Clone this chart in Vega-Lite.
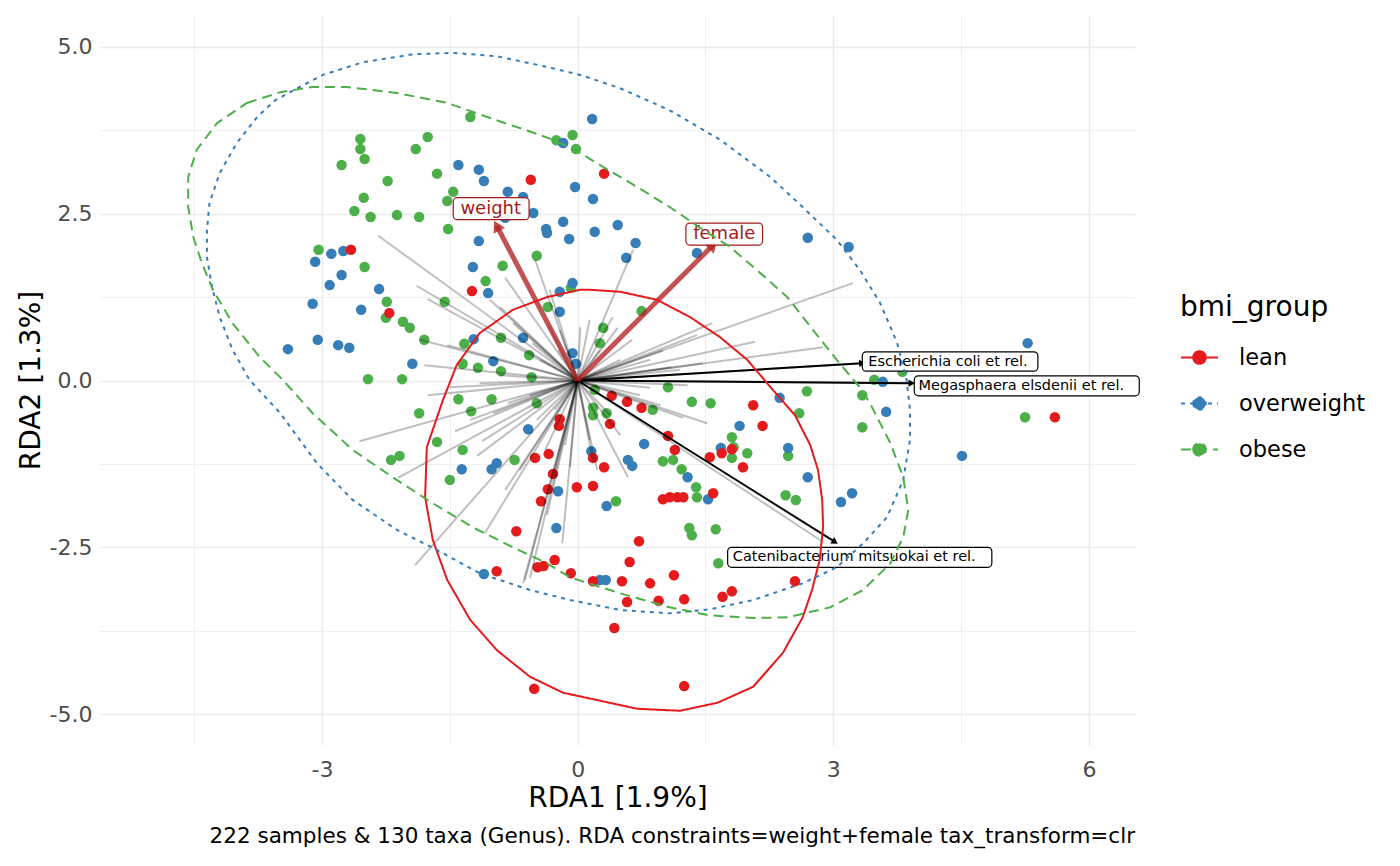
{
  "$schema": "https://vega.github.io/schema/vega-lite/v6.json",
  "width": 1035,
  "height": 730,
  "autosize": {"type": "none"},
  "padding": {"left": 100, "top": 15, "right": 265, "bottom": 121},
  "background": "white",
  "title": {
    "text": "222 samples & 130 taxa (Genus). RDA constraints=weight+female tax_transform=clr",
    "orient": "bottom", "anchor": "end", "frame": "group",
    "fontSize": 21.5, "fontWeight": "normal", "color": "#000000", "offset": 14
  },
  "datasets": {
    "samples": [
      {"bmi_group": "obese", "x": -1.26, "y": 3.95}, {"bmi_group": "obese", "x": -2.55, "y": 3.62}, {"bmi_group": "obese", "x": -2.55, "y": 3.47},
      {"bmi_group": "obese", "x": -2.50, "y": 3.32}, {"bmi_group": "obese", "x": -2.77, "y": 3.23}, {"bmi_group": "obese", "x": -1.90, "y": 3.47},
      {"bmi_group": "obese", "x": -1.76, "y": 3.65}, {"bmi_group": "obese", "x": -0.25, "y": 3.60}, {"bmi_group": "obese", "x": -0.06, "y": 3.68},
      {"bmi_group": "obese", "x": -0.02, "y": 3.47}, {"bmi_group": "obese", "x": -2.23, "y": 2.99}, {"bmi_group": "obese", "x": -1.65, "y": 3.10},
      {"bmi_group": "obese", "x": -1.46, "y": 2.83}, {"bmi_group": "obese", "x": -1.53, "y": 2.69}, {"bmi_group": "obese", "x": -2.51, "y": 2.74},
      {"bmi_group": "obese", "x": -2.62, "y": 2.54}, {"bmi_group": "obese", "x": -2.43, "y": 2.45}, {"bmi_group": "obese", "x": -2.12, "y": 2.48},
      {"bmi_group": "obese", "x": -1.86, "y": 2.45}, {"bmi_group": "obese", "x": -1.52, "y": 2.27}, {"bmi_group": "obese", "x": -3.04, "y": 1.96},
      {"bmi_group": "obese", "x": -2.50, "y": 1.70}, {"bmi_group": "obese", "x": -1.08, "y": 1.49}, {"bmi_group": "obese", "x": -0.88, "y": 1.72},
      {"bmi_group": "obese", "x": -0.48, "y": 1.87}, {"bmi_group": "obese", "x": -2.24, "y": 1.18}, {"bmi_group": "obese", "x": -2.25, "y": 0.94},
      {"bmi_group": "obese", "x": -2.05, "y": 0.88}, {"bmi_group": "obese", "x": -1.97, "y": 0.79}, {"bmi_group": "obese", "x": -1.56, "y": 1.18},
      {"bmi_group": "obese", "x": -1.80, "y": 0.61}, {"bmi_group": "obese", "x": -1.33, "y": 0.55}, {"bmi_group": "obese", "x": -0.90, "y": 0.64},
      {"bmi_group": "obese", "x": -0.57, "y": 0.38}, {"bmi_group": "obese", "x": -1.35, "y": 0.25}, {"bmi_group": "obese", "x": -1.17, "y": 0.19},
      {"bmi_group": "obese", "x": -0.90, "y": 0.14}, {"bmi_group": "obese", "x": -0.54, "y": 0.05}, {"bmi_group": "obese", "x": -0.35, "y": 1.10},
      {"bmi_group": "obese", "x": -0.08, "y": 1.39}, {"bmi_group": "obese", "x": -2.46, "y": 0.02}, {"bmi_group": "obese", "x": -2.06, "y": 0.02},
      {"bmi_group": "obese", "x": -1.40, "y": -0.28}, {"bmi_group": "obese", "x": -1.01, "y": -0.28}, {"bmi_group": "obese", "x": -1.25, "y": -0.46},
      {"bmi_group": "obese", "x": -1.86, "y": -0.49}, {"bmi_group": "obese", "x": -0.48, "y": -0.34}, {"bmi_group": "obese", "x": -1.65, "y": -0.92},
      {"bmi_group": "obese", "x": -1.35, "y": -1.04}, {"bmi_group": "obese", "x": -2.19, "y": -1.19}, {"bmi_group": "obese", "x": -2.09, "y": -1.13},
      {"bmi_group": "obese", "x": -0.74, "y": -1.19}, {"bmi_group": "obese", "x": -1.50, "y": -1.49}, {"bmi_group": "obese", "x": 0.75, "y": 1.04},
      {"bmi_group": "obese", "x": 0.30, "y": 0.79}, {"bmi_group": "obese", "x": 0.26, "y": 0.56}, {"bmi_group": "obese", "x": 3.48, "y": 0.01},
      {"bmi_group": "obese", "x": 3.81, "y": 0.13}, {"bmi_group": "obese", "x": 2.69, "y": -0.16}, {"bmi_group": "obese", "x": 1.06, "y": -0.10},
      {"bmi_group": "obese", "x": 3.34, "y": -0.22}, {"bmi_group": "obese", "x": 3.34, "y": -0.70}, {"bmi_group": "obese", "x": 5.25, "y": -0.55},
      {"bmi_group": "obese", "x": 1.34, "y": -0.32}, {"bmi_group": "obese", "x": 1.56, "y": -0.34}, {"bmi_group": "obese", "x": 2.60, "y": -0.49},
      {"bmi_group": "obese", "x": 0.18, "y": -0.41}, {"bmi_group": "obese", "x": 0.18, "y": -0.52}, {"bmi_group": "obese", "x": 0.34, "y": -0.49},
      {"bmi_group": "obese", "x": 0.88, "y": -0.44}, {"bmi_group": "obese", "x": 1.81, "y": -0.85}, {"bmi_group": "obese", "x": 1.83, "y": -1.00},
      {"bmi_group": "obese", "x": 1.81, "y": -1.16}, {"bmi_group": "obese", "x": 1.99, "y": -1.09}, {"bmi_group": "obese", "x": 1.00, "y": -1.21},
      {"bmi_group": "obese", "x": 1.12, "y": -1.19}, {"bmi_group": "obese", "x": 1.22, "y": -1.33}, {"bmi_group": "obese", "x": 1.39, "y": -1.60},
      {"bmi_group": "obese", "x": 1.40, "y": -1.75}, {"bmi_group": "obese", "x": 2.47, "y": -1.13}, {"bmi_group": "obese", "x": 2.44, "y": -1.72},
      {"bmi_group": "obese", "x": 2.56, "y": -1.79}, {"bmi_group": "obese", "x": 0.45, "y": -1.81}, {"bmi_group": "obese", "x": 1.31, "y": -2.21},
      {"bmi_group": "obese", "x": 1.34, "y": -2.32}, {"bmi_group": "obese", "x": 1.62, "y": -2.23}, {"bmi_group": "obese", "x": 1.65, "y": -2.74},
      {"bmi_group": "obese", "x": 0.20, "y": -0.14},
      {"bmi_group": "overweight", "x": -1.40, "y": 3.23}, {"bmi_group": "overweight", "x": -1.16, "y": 3.16}, {"bmi_group": "overweight", "x": -1.10, "y": 2.99},
      {"bmi_group": "overweight", "x": -0.82, "y": 2.83}, {"bmi_group": "overweight", "x": -0.64, "y": 2.75}, {"bmi_group": "overweight", "x": -0.52, "y": 2.51},
      {"bmi_group": "overweight", "x": -0.85, "y": 2.44}, {"bmi_group": "overweight", "x": -0.37, "y": 2.27}, {"bmi_group": "overweight", "x": -0.36, "y": 2.21},
      {"bmi_group": "overweight", "x": -0.17, "y": 2.38}, {"bmi_group": "overweight", "x": -0.10, "y": 2.12}, {"bmi_group": "overweight", "x": -0.03, "y": 2.90},
      {"bmi_group": "overweight", "x": -0.17, "y": 3.56}, {"bmi_group": "overweight", "x": -1.16, "y": 2.09}, {"bmi_group": "overweight", "x": -1.23, "y": 1.70},
      {"bmi_group": "overweight", "x": -1.05, "y": 1.31}, {"bmi_group": "overweight", "x": -2.89, "y": 1.90}, {"bmi_group": "overweight", "x": -2.75, "y": 1.94},
      {"bmi_group": "overweight", "x": -3.08, "y": 1.78}, {"bmi_group": "overweight", "x": -2.77, "y": 1.58}, {"bmi_group": "overweight", "x": -2.91, "y": 1.43},
      {"bmi_group": "overweight", "x": -2.33, "y": 1.37}, {"bmi_group": "overweight", "x": -3.11, "y": 1.15}, {"bmi_group": "overweight", "x": -2.54, "y": 1.06},
      {"bmi_group": "overweight", "x": -3.05, "y": 0.61}, {"bmi_group": "overweight", "x": -2.81, "y": 0.53}, {"bmi_group": "overweight", "x": -2.68, "y": 0.49},
      {"bmi_group": "overweight", "x": -3.40, "y": 0.47}, {"bmi_group": "overweight", "x": -1.94, "y": 0.25}, {"bmi_group": "overweight", "x": -0.99, "y": 0.29},
      {"bmi_group": "overweight", "x": -0.64, "y": 0.64}, {"bmi_group": "overweight", "x": -1.22, "y": 0.62}, {"bmi_group": "overweight", "x": -0.21, "y": 1.33},
      {"bmi_group": "overweight", "x": -0.21, "y": 1.03}, {"bmi_group": "overweight", "x": -0.06, "y": 1.46}, {"bmi_group": "overweight", "x": -0.06, "y": 0.41},
      {"bmi_group": "overweight", "x": -0.02, "y": 0.25}, {"bmi_group": "overweight", "x": -0.58, "y": -0.73}, {"bmi_group": "overweight", "x": -1.36, "y": -1.33},
      {"bmi_group": "overweight", "x": -1.01, "y": -1.33}, {"bmi_group": "overweight", "x": -0.95, "y": -1.24}, {"bmi_group": "overweight", "x": -0.23, "y": -1.66},
      {"bmi_group": "overweight", "x": -0.25, "y": -2.21}, {"bmi_group": "overweight", "x": -1.10, "y": -2.90}, {"bmi_group": "overweight", "x": 0.17, "y": 3.92},
      {"bmi_group": "overweight", "x": 0.18, "y": 2.72}, {"bmi_group": "overweight", "x": 0.20, "y": 2.23}, {"bmi_group": "overweight", "x": 0.47, "y": 2.33},
      {"bmi_group": "overweight", "x": 0.68, "y": 2.06}, {"bmi_group": "overweight", "x": 0.57, "y": 1.84}, {"bmi_group": "overweight", "x": 1.40, "y": 1.91},
      {"bmi_group": "overweight", "x": 2.70, "y": 2.14}, {"bmi_group": "overweight", "x": 3.18, "y": 2.00}, {"bmi_group": "overweight", "x": 5.28, "y": 0.56},
      {"bmi_group": "overweight", "x": 3.58, "y": -0.02}, {"bmi_group": "overweight", "x": 3.62, "y": -0.47}, {"bmi_group": "overweight", "x": 4.51, "y": -1.13},
      {"bmi_group": "overweight", "x": 2.37, "y": -0.26}, {"bmi_group": "overweight", "x": 1.90, "y": -0.68}, {"bmi_group": "overweight", "x": 0.78, "y": -0.95},
      {"bmi_group": "overweight", "x": 0.16, "y": -1.06}, {"bmi_group": "overweight", "x": 0.59, "y": -1.19}, {"bmi_group": "overweight", "x": 0.64, "y": -1.28},
      {"bmi_group": "overweight", "x": 1.68, "y": -1.01}, {"bmi_group": "overweight", "x": 2.47, "y": -1.01}, {"bmi_group": "overweight", "x": 2.70, "y": -1.45},
      {"bmi_group": "overweight", "x": 1.29, "y": -1.45}, {"bmi_group": "overweight", "x": 1.53, "y": -1.78}, {"bmi_group": "overweight", "x": 0.34, "y": -1.88},
      {"bmi_group": "overweight", "x": 3.09, "y": -1.82}, {"bmi_group": "overweight", "x": 3.22, "y": -1.69}, {"bmi_group": "overweight", "x": 0.26, "y": -2.99},
      {"bmi_group": "overweight", "x": 0.33, "y": -2.99},
      {"bmi_group": "lean", "x": -0.55, "y": 3.01}, {"bmi_group": "lean", "x": -2.66, "y": 1.96}, {"bmi_group": "lean", "x": -1.24, "y": 1.34},
      {"bmi_group": "lean", "x": -2.21, "y": 1.01}, {"bmi_group": "lean", "x": 0.31, "y": 3.10}, {"bmi_group": "lean", "x": -0.21, "y": -0.58},
      {"bmi_group": "lean", "x": -0.22, "y": -0.68}, {"bmi_group": "lean", "x": -0.50, "y": -1.16}, {"bmi_group": "lean", "x": -0.34, "y": -1.10},
      {"bmi_group": "lean", "x": -0.29, "y": -1.40}, {"bmi_group": "lean", "x": -0.35, "y": -1.63}, {"bmi_group": "lean", "x": -0.43, "y": -1.81},
      {"bmi_group": "lean", "x": -0.01, "y": -1.60}, {"bmi_group": "lean", "x": -0.72, "y": -2.26}, {"bmi_group": "lean", "x": -0.95, "y": -2.86},
      {"bmi_group": "lean", "x": -0.47, "y": -2.80}, {"bmi_group": "lean", "x": -0.40, "y": -2.78}, {"bmi_group": "lean", "x": -0.27, "y": -2.69},
      {"bmi_group": "lean", "x": -0.08, "y": -2.89}, {"bmi_group": "lean", "x": -0.51, "y": -4.62}, {"bmi_group": "lean", "x": 0.40, "y": -0.23},
      {"bmi_group": "lean", "x": 0.58, "y": -0.32}, {"bmi_group": "lean", "x": 0.75, "y": -0.41}, {"bmi_group": "lean", "x": 2.06, "y": -0.37},
      {"bmi_group": "lean", "x": 2.17, "y": -0.68}, {"bmi_group": "lean", "x": 0.38, "y": -0.65}, {"bmi_group": "lean", "x": 1.06, "y": -0.83},
      {"bmi_group": "lean", "x": 1.14, "y": -1.04}, {"bmi_group": "lean", "x": 1.55, "y": -1.15}, {"bmi_group": "lean", "x": 1.69, "y": -1.09},
      {"bmi_group": "lean", "x": 1.81, "y": -1.03}, {"bmi_group": "lean", "x": 1.94, "y": -1.30}, {"bmi_group": "lean", "x": 0.18, "y": -1.16},
      {"bmi_group": "lean", "x": 0.31, "y": -1.30}, {"bmi_group": "lean", "x": 0.18, "y": -1.58}, {"bmi_group": "lean", "x": 1.59, "y": -1.69},
      {"bmi_group": "lean", "x": 1.00, "y": -1.78}, {"bmi_group": "lean", "x": 1.08, "y": -1.75}, {"bmi_group": "lean", "x": 1.17, "y": -1.75},
      {"bmi_group": "lean", "x": 1.24, "y": -1.75}, {"bmi_group": "lean", "x": 0.72, "y": -2.41}, {"bmi_group": "lean", "x": 0.61, "y": -2.72},
      {"bmi_group": "lean", "x": 0.18, "y": -3.01}, {"bmi_group": "lean", "x": 0.52, "y": -3.01}, {"bmi_group": "lean", "x": 0.85, "y": -3.04},
      {"bmi_group": "lean", "x": 1.13, "y": -2.92}, {"bmi_group": "lean", "x": 0.58, "y": -3.32}, {"bmi_group": "lean", "x": 0.95, "y": -3.30},
      {"bmi_group": "lean", "x": 1.25, "y": -3.28}, {"bmi_group": "lean", "x": 1.70, "y": -3.24}, {"bmi_group": "lean", "x": 1.81, "y": -3.16},
      {"bmi_group": "lean", "x": 2.55, "y": -3.01}, {"bmi_group": "lean", "x": 0.43, "y": -3.71}, {"bmi_group": "lean", "x": 1.25, "y": -4.58},
      {"bmi_group": "lean", "x": 5.60, "y": -0.55}
    ],
    "ellipses": [
      {"bmi_group": "lean", "i": 0, "x": 0.14, "y": 1.36}, {"bmi_group": "lean", "i": 1, "x": 0.50, "y": 1.33}, {"bmi_group": "lean", "i": 2, "x": 0.93, "y": 1.21},
      {"bmi_group": "lean", "i": 3, "x": 1.32, "y": 0.95}, {"bmi_group": "lean", "i": 4, "x": 1.67, "y": 0.65}, {"bmi_group": "lean", "i": 5, "x": 1.99, "y": 0.31},
      {"bmi_group": "lean", "i": 6, "x": 2.29, "y": -0.14}, {"bmi_group": "lean", "i": 7, "x": 2.55, "y": -0.52}, {"bmi_group": "lean", "i": 8, "x": 2.73, "y": -0.97},
      {"bmi_group": "lean", "i": 9, "x": 2.82, "y": -1.34}, {"bmi_group": "lean", "i": 10, "x": 2.87, "y": -1.79}, {"bmi_group": "lean", "i": 11, "x": 2.88, "y": -2.20},
      {"bmi_group": "lean", "i": 12, "x": 2.84, "y": -2.69}, {"bmi_group": "lean", "i": 13, "x": 2.75, "y": -3.14}, {"bmi_group": "lean", "i": 14, "x": 2.64, "y": -3.55},
      {"bmi_group": "lean", "i": 15, "x": 2.41, "y": -4.08}, {"bmi_group": "lean", "i": 16, "x": 2.06, "y": -4.59}, {"bmi_group": "lean", "i": 17, "x": 1.64, "y": -4.83},
      {"bmi_group": "lean", "i": 18, "x": 1.20, "y": -4.95}, {"bmi_group": "lean", "i": 19, "x": 0.70, "y": -4.92}, {"bmi_group": "lean", "i": 20, "x": 0.23, "y": -4.79},
      {"bmi_group": "lean", "i": 21, "x": -0.17, "y": -4.68}, {"bmi_group": "lean", "i": 22, "x": -0.56, "y": -4.44}, {"bmi_group": "lean", "i": 23, "x": -0.95, "y": -4.04},
      {"bmi_group": "lean", "i": 24, "x": -1.26, "y": -3.59}, {"bmi_group": "lean", "i": 25, "x": -1.53, "y": -2.99}, {"bmi_group": "lean", "i": 26, "x": -1.70, "y": -2.39},
      {"bmi_group": "lean", "i": 27, "x": -1.79, "y": -1.75}, {"bmi_group": "lean", "i": 28, "x": -1.77, "y": -1.00}, {"bmi_group": "lean", "i": 29, "x": -1.58, "y": -0.29},
      {"bmi_group": "lean", "i": 30, "x": -1.42, "y": 0.23}, {"bmi_group": "lean", "i": 31, "x": -1.15, "y": 0.71}, {"bmi_group": "lean", "i": 32, "x": -0.76, "y": 1.06},
      {"bmi_group": "lean", "i": 33, "x": -0.36, "y": 1.25}, {"bmi_group": "lean", "i": 34, "x": 0.03, "y": 1.36}, {"bmi_group": "lean", "i": 35, "x": 0.14, "y": 1.36},
      {"bmi_group": "overweight", "i": 0, "x": -3.29, "y": 4.38}, {"bmi_group": "overweight", "i": 1, "x": -2.99, "y": 4.58}, {"bmi_group": "overweight", "i": 2, "x": -2.52, "y": 4.77},
      {"bmi_group": "overweight", "i": 3, "x": -1.93, "y": 4.89}, {"bmi_group": "overweight", "i": 4, "x": -1.46, "y": 4.91}, {"bmi_group": "overweight", "i": 5, "x": -0.95, "y": 4.86},
      {"bmi_group": "overweight", "i": 6, "x": -0.36, "y": 4.70}, {"bmi_group": "overweight", "i": 7, "x": 0.03, "y": 4.58}, {"bmi_group": "overweight", "i": 8, "x": 0.50, "y": 4.38},
      {"bmi_group": "overweight", "i": 9, "x": 1.08, "y": 4.05}, {"bmi_group": "overweight", "i": 10, "x": 1.67, "y": 3.61}, {"bmi_group": "overweight", "i": 11, "x": 2.26, "y": 3.05},
      {"bmi_group": "overweight", "i": 12, "x": 2.64, "y": 2.60}, {"bmi_group": "overweight", "i": 13, "x": 3.04, "y": 2.11}, {"bmi_group": "overweight", "i": 14, "x": 3.31, "y": 1.66},
      {"bmi_group": "overweight", "i": 15, "x": 3.55, "y": 1.16}, {"bmi_group": "overweight", "i": 16, "x": 3.75, "y": 0.56}, {"bmi_group": "overweight", "i": 17, "x": 3.86, "y": 0.01},
      {"bmi_group": "overweight", "i": 18, "x": 3.90, "y": -0.44}, {"bmi_group": "overweight", "i": 19, "x": 3.90, "y": -0.89}, {"bmi_group": "overweight", "i": 20, "x": 3.82, "y": -1.49},
      {"bmi_group": "overweight", "i": 21, "x": 3.63, "y": -2.05}, {"bmi_group": "overweight", "i": 22, "x": 3.35, "y": -2.44}, {"bmi_group": "overweight", "i": 23, "x": 3.04, "y": -2.80},
      {"bmi_group": "overweight", "i": 24, "x": 2.64, "y": -3.04}, {"bmi_group": "overweight", "i": 25, "x": 2.06, "y": -3.29}, {"bmi_group": "overweight", "i": 26, "x": 1.55, "y": -3.43},
      {"bmi_group": "overweight", "i": 27, "x": 1.08, "y": -3.49}, {"bmi_group": "overweight", "i": 28, "x": 0.50, "y": -3.44}, {"bmi_group": "overweight", "i": 29, "x": -0.09, "y": -3.29},
      {"bmi_group": "overweight", "i": 30, "x": -0.56, "y": -3.14}, {"bmi_group": "overweight", "i": 31, "x": -1.15, "y": -2.89}, {"bmi_group": "overweight", "i": 32, "x": -1.65, "y": -2.54},
      {"bmi_group": "overweight", "i": 33, "x": -2.12, "y": -2.24}, {"bmi_group": "overweight", "i": 34, "x": -2.64, "y": -1.79}, {"bmi_group": "overweight", "i": 35, "x": -3.06, "y": -1.24},
      {"bmi_group": "overweight", "i": 36, "x": -3.49, "y": -0.49}, {"bmi_group": "overweight", "i": 37, "x": -3.85, "y": 0.01}, {"bmi_group": "overweight", "i": 38, "x": -4.05, "y": 0.46},
      {"bmi_group": "overweight", "i": 39, "x": -4.20, "y": 0.95}, {"bmi_group": "overweight", "i": 40, "x": -4.29, "y": 1.40}, {"bmi_group": "overweight", "i": 41, "x": -4.35, "y": 1.85},
      {"bmi_group": "overweight", "i": 42, "x": -4.35, "y": 2.26}, {"bmi_group": "overweight", "i": 43, "x": -4.32, "y": 2.66}, {"bmi_group": "overweight", "i": 44, "x": -4.20, "y": 3.11},
      {"bmi_group": "overweight", "i": 45, "x": -4.00, "y": 3.56}, {"bmi_group": "overweight", "i": 46, "x": -3.76, "y": 3.95}, {"bmi_group": "overweight", "i": 47, "x": -3.55, "y": 4.20},
      {"bmi_group": "overweight", "i": 48, "x": -3.29, "y": 4.38},
      {"bmi_group": "obese", "i": 0, "x": -3.88, "y": 4.16}, {"bmi_group": "obese", "i": 1, "x": -3.49, "y": 4.32}, {"bmi_group": "obese", "i": 2, "x": -3.11, "y": 4.40},
      {"bmi_group": "obese", "i": 3, "x": -2.71, "y": 4.40}, {"bmi_group": "obese", "i": 4, "x": -2.12, "y": 4.31}, {"bmi_group": "obese", "i": 5, "x": -1.53, "y": 4.16},
      {"bmi_group": "obese", "i": 6, "x": -0.95, "y": 3.90}, {"bmi_group": "obese", "i": 7, "x": -0.60, "y": 3.75}, {"bmi_group": "obese", "i": 8, "x": -0.29, "y": 3.61},
      {"bmi_group": "obese", "i": 9, "x": 0.03, "y": 3.41}, {"bmi_group": "obese", "i": 10, "x": 0.30, "y": 3.20}, {"bmi_group": "obese", "i": 11, "x": 0.70, "y": 2.90},
      {"bmi_group": "obese", "i": 12, "x": 1.08, "y": 2.60}, {"bmi_group": "obese", "i": 13, "x": 1.47, "y": 2.26}, {"bmi_group": "obese", "i": 14, "x": 1.79, "y": 2.00},
      {"bmi_group": "obese", "i": 15, "x": 2.10, "y": 1.66}, {"bmi_group": "obese", "i": 16, "x": 2.46, "y": 1.25}, {"bmi_group": "obese", "i": 17, "x": 2.76, "y": 0.76},
      {"bmi_group": "obese", "i": 18, "x": 3.04, "y": 0.31}, {"bmi_group": "obese", "i": 19, "x": 3.31, "y": -0.10}, {"bmi_group": "obese", "i": 20, "x": 3.43, "y": -0.34},
      {"bmi_group": "obese", "i": 21, "x": 3.67, "y": -0.94}, {"bmi_group": "obese", "i": 22, "x": 3.82, "y": -1.45}, {"bmi_group": "obese", "i": 23, "x": 3.88, "y": -1.94},
      {"bmi_group": "obese", "i": 24, "x": 3.82, "y": -2.35}, {"bmi_group": "obese", "i": 25, "x": 3.67, "y": -2.74}, {"bmi_group": "obese", "i": 26, "x": 3.35, "y": -3.14},
      {"bmi_group": "obese", "i": 27, "x": 2.96, "y": -3.40}, {"bmi_group": "obese", "i": 28, "x": 2.46, "y": -3.55}, {"bmi_group": "obese", "i": 29, "x": 2.06, "y": -3.56},
      {"bmi_group": "obese", "i": 30, "x": 1.55, "y": -3.52}, {"bmi_group": "obese", "i": 31, "x": 1.08, "y": -3.40}, {"bmi_group": "obese", "i": 32, "x": 0.50, "y": -3.19},
      {"bmi_group": "obese", "i": 33, "x": -0.09, "y": -2.95}, {"bmi_group": "obese", "i": 34, "x": -0.36, "y": -2.74}, {"bmi_group": "obese", "i": 35, "x": -0.76, "y": -2.50},
      {"bmi_group": "obese", "i": 36, "x": -1.23, "y": -2.20}, {"bmi_group": "obese", "i": 37, "x": -1.70, "y": -1.84}, {"bmi_group": "obese", "i": 38, "x": -2.17, "y": -1.45},
      {"bmi_group": "obese", "i": 39, "x": -2.64, "y": -1.04}, {"bmi_group": "obese", "i": 40, "x": -3.11, "y": -0.49}, {"bmi_group": "obese", "i": 41, "x": -3.46, "y": 0.01},
      {"bmi_group": "obese", "i": 42, "x": -3.73, "y": 0.35}, {"bmi_group": "obese", "i": 43, "x": -4.05, "y": 0.86}, {"bmi_group": "obese", "i": 44, "x": -4.28, "y": 1.36},
      {"bmi_group": "obese", "i": 45, "x": -4.41, "y": 1.76}, {"bmi_group": "obese", "i": 46, "x": -4.51, "y": 2.15}, {"bmi_group": "obese", "i": 47, "x": -4.57, "y": 2.60},
      {"bmi_group": "obese", "i": 48, "x": -4.57, "y": 3.05}, {"bmi_group": "obese", "i": 49, "x": -4.47, "y": 3.46}, {"bmi_group": "obese", "i": 50, "x": -4.23, "y": 3.86},
      {"bmi_group": "obese", "i": 51, "x": -3.88, "y": 4.16}
    ],
    "taxa": [
      {"xend": -2.34, "yend": 2.17}, {"xend": -1.89, "yend": 1.42}, {"xend": -1.76, "yend": 1.22}, {"xend": -1.80, "yend": 0.23},
      {"xend": -0.85, "yend": 1.54}, {"xend": -1.03, "yend": 1.21}, {"xend": -0.50, "yend": 1.81}, {"xend": -0.33, "yend": 1.36},
      {"xend": -1.85, "yend": 0.61}, {"xend": -2.56, "yend": -0.91}, {"xend": -1.76, "yend": -0.22}, {"xend": -1.50, "yend": -0.10},
      {"xend": -2.11, "yend": -1.46}, {"xend": -1.91, "yend": -2.77}, {"xend": -1.44, "yend": -0.76}, {"xend": -1.18, "yend": -1.13},
      {"xend": -1.12, "yend": -0.91}, {"xend": -1.09, "yend": -2.29}, {"xend": -0.64, "yend": -3.04}, {"xend": -0.62, "yend": -2.99},
      {"xend": -0.56, "yend": -2.96}, {"xend": -0.36, "yend": -2.02}, {"xend": -0.18, "yend": -2.44}, {"xend": -0.48, "yend": -0.59},
      {"xend": -0.99, "yend": -0.49}, {"xend": -0.82, "yend": -0.34}, {"xend": 3.23, "yend": 1.46}, {"xend": 1.58, "yend": 0.86},
      {"xend": 2.08, "yend": 0.58}, {"xend": 2.88, "yend": 0.50}, {"xend": 1.40, "yend": 0.68}, {"xend": 0.65, "yend": 1.96},
      {"xend": 0.41, "yend": 0.95}, {"xend": 0.47, "yend": 0.79}, {"xend": 0.64, "yend": 0.61}, {"xend": 1.29, "yend": -0.07},
      {"xend": 0.85, "yend": -0.11}, {"xend": 1.52, "yend": -0.64}, {"xend": 0.50, "yend": -0.82}, {"xend": 0.59, "yend": -1.45},
      {"xend": 0.18, "yend": -1.22}, {"xend": 1.24, "yend": -0.56}, {"xend": 2.88, "yend": -2.42}, {"xend": -0.09, "yend": -1.30},
      {"xend": 0.03, "yend": 0.80}, {"xend": -0.23, "yend": 0.46}, {"xend": -1.53, "yend": 0.53}, {"xend": -0.91, "yend": 1.10},
      {"xend": -0.76, "yend": 0.86}, {"xend": -0.53, "yend": 0.56}, {"xend": -0.35, "yend": 0.83}, {"xend": -0.44, "yend": 0.31},
      {"xend": -0.56, "yend": -0.22}, {"xend": -0.27, "yend": -0.44}, {"xend": 0.26, "yend": 0.46}, {"xend": 0.50, "yend": 0.31},
      {"xend": 0.73, "yend": -0.22}, {"xend": 0.38, "yend": -0.52}, {"xend": 0.14, "yend": -0.89}, {"xend": -0.15, "yend": -0.97},
      {"xend": -0.38, "yend": -1.04}, {"xend": -0.68, "yend": -1.34}, {"xend": -0.85, "yend": -1.64}, {"xend": -1.26, "yend": -0.59},
      {"xend": -1.15, "yend": -0.04}, {"xend": -0.91, "yend": 0.08}, {"xend": -0.21, "yend": 0.76}, {"xend": 0.14, "yend": 0.91},
      {"xend": 0.85, "yend": 0.31}, {"xend": 1.20, "yend": 0.16}, {"xend": 0.97, "yend": -0.37}, {"xend": 0.23, "yend": -1.34},
      {"xend": -0.27, "yend": -1.34}, {"xend": 3.34, "yend": 0.26}, {"xend": 3.92, "yend": -0.04}, {"xend": 1.47, "yend": 0.26},
      {"xend": 1.00, "yend": 0.45}, {"xend": 1.10, "yend": 0.20}
    ],
    "highlight": [
      {"taxon": "Escherichia coli et rel.", "xend": 3.34, "yend": 0.26, "tx": 3.41, "ty": 0.28, "bx0": 3.34, "bx1": 5.40, "by0": 0.14, "by1": 0.43},
      {"taxon": "Megasphaera elsdenii et rel.", "xend": 3.92, "yend": -0.04, "tx": 4.00, "ty": -0.08, "bx0": 3.95, "bx1": 6.59, "by0": -0.23, "by1": 0.07},
      {"taxon": "Catenibacterium mitsuokai et rel.", "xend": 3.02, "yend": -2.42, "tx": 1.82, "ty": -2.65, "bx0": 1.76, "bx1": 4.86, "by0": -2.80, "by1": -2.50}
    ],
    "constraints": [
      {"term": "weight", "xend": -0.95, "yend": 2.32, "tx": -1.02, "ty": 2.57, "bx0": -1.46, "bx1": -0.57, "by0": 2.41, "by1": 2.74},
      {"term": "female", "xend": 1.59, "yend": 2.03, "tx": 1.72, "ty": 2.20, "bx0": 1.27, "bx1": 2.17, "by0": 2.03, "by1": 2.36}
    ]
  },
  "layer": [
    {
      "data": {"name": "samples"},
      "mark": {"type": "point", "filled": true, "size": 110, "opacity": 1, "strokeWidth": 0},
      "encoding": {
        "x": {
          "field": "x", "type": "quantitative", "title": "RDA1 [1.9%]",
          "scale": {"domain": [-5.605, 6.54], "nice": false, "zero": false},
          "axis": {
            "values": [-4.5, -3, -1.5, 0, 1.5, 3, 4.5, 6],
            "labelExpr": "datum.value % 3 === 0 ? (datum.value < 0 ? '-' : '') + format(abs(datum.value), 'd') : ''",
            "gridWidth": {"condition": {"test": "datum.value % 3 !== 0", "value": 0.8}, "value": 1.5},
            "labelPadding": 14, "titlePadding": 4, "labelFlush": false, "labelOverlap": false
          }
        },
        "y": {
          "field": "y", "type": "quantitative", "title": "RDA2 [1.3%]",
          "scale": {"domain": [-5.463, 5.478], "nice": false, "zero": false},
          "axis": {
            "values": [-5, -3.75, -2.5, -1.25, 0, 1.25, 2.5, 3.75, 5],
            "labelExpr": "datum.value % 2.5 === 0 ? (datum.value < 0 ? '-' : '') + format(abs(datum.value), '.1f') : ''",
            "gridWidth": {"condition": {"test": "datum.value % 2.5 !== 0", "value": 0.8}, "value": 1.5},
            "labelPadding": 8, "titlePadding": 4, "labelFlush": false, "labelOverlap": false
          }
        },
        "color": {
          "field": "bmi_group", "type": "nominal",
          "scale": {"domain": ["lean", "overweight", "obese"], "range": ["#E41A1C", "#377EB8", "#4DAF4A"]},
          "legend": {
            "title": "bmi_group", "orient": "none", "legendX": 1080, "legendY": 279,
            "titleFontSize": 28, "titleFontWeight": "normal", "titleColor": "#000000", "titlePadding": 16,
            "labelFontSize": 22.5, "labelColor": "#000000", "labelOffset": 20,
            "symbolType": "M-1,0L1,0M-0.34,0A0.34,0.34,0,1,0,0.34,0A0.34,0.34,0,1,0,-0.34,0Z",
            "symbolSize": 1369, "symbolStrokeWidth": 2, "rowPadding": 15, "padding": 0,
            "encode": {
              "symbols": {
                "update": {
                  "strokeDash": {"signal": "datum.value === 'overweight' ? [3, 4] : datum.value === 'obese' ? [9, 4] : [1, 0]"},
                  "stroke": {"signal": "scale('color', datum.value)"},
                  "fill": {"signal": "scale('color', datum.value)"},
                  "strokeWidth": {"value": 2},
                  "opacity": {"value": 1}
                }
              }
            }
          }
        }
      }
    },
    {
      "data": {"name": "taxa"},
      "mark": {"type": "rule", "color": "#000000", "opacity": 0.25, "strokeWidth": 2},
      "encoding": {
        "x": {"field": "xend", "type": "quantitative", "title": "RDA1 [1.9%]", "scale": {"domain": [-5.605, 6.54], "nice": false, "zero": false}},
        "y": {"field": "yend", "type": "quantitative", "title": "RDA2 [1.3%]", "scale": {"domain": [-5.463, 5.478], "nice": false, "zero": false}},
        "x2": {"datum": 0},
        "y2": {"datum": 0}
      }
    },
    {
      "data": {"name": "highlight"},
      "mark": {"type": "rule", "color": "#000000", "strokeWidth": 2},
      "encoding": {
        "x": {"field": "xend", "type": "quantitative", "title": "RDA1 [1.9%]", "scale": {"domain": [-5.605, 6.54], "nice": false, "zero": false}},
        "y": {"field": "yend", "type": "quantitative", "title": "RDA2 [1.3%]", "scale": {"domain": [-5.463, 5.478], "nice": false, "zero": false}},
        "x2": {"datum": 0},
        "y2": {"datum": 0}
      }
    },
    {
      "data": {"name": "highlight"},
      "transform": [{"calculate": "atan2(datum.xend * 85.22, datum.yend * 66.72) * 180 / PI", "as": "heading"}],
      "mark": {"type": "point", "shape": "triangle-up", "filled": true, "size": 55, "color": "#000000", "opacity": 1},
      "encoding": {
        "x": {"field": "xend", "type": "quantitative", "title": "RDA1 [1.9%]", "scale": {"domain": [-5.605, 6.54], "nice": false, "zero": false}},
        "y": {"field": "yend", "type": "quantitative", "title": "RDA2 [1.3%]", "scale": {"domain": [-5.463, 5.478], "nice": false, "zero": false}},
        "angle": {"field": "heading", "type": "quantitative", "scale": {"domain": [-360, 360], "range": [-360, 360]}}
      }
    },
    {
      "data": {"name": "constraints"},
      "mark": {"type": "rule", "color": "#B22222", "opacity": 0.78, "strokeWidth": 5},
      "encoding": {
        "x": {"field": "xend", "type": "quantitative", "title": "RDA1 [1.9%]", "scale": {"domain": [-5.605, 6.54], "nice": false, "zero": false}},
        "y": {"field": "yend", "type": "quantitative", "title": "RDA2 [1.3%]", "scale": {"domain": [-5.463, 5.478], "nice": false, "zero": false}},
        "x2": {"datum": 0},
        "y2": {"datum": 0}
      }
    },
    {
      "data": {"name": "constraints"},
      "transform": [{"calculate": "atan2(datum.xend * 85.22, datum.yend * 66.72) * 180 / PI", "as": "heading"}],
      "mark": {"type": "point", "shape": "triangle-up", "filled": true, "size": 170, "color": "#B22222", "opacity": 0.78},
      "encoding": {
        "x": {"field": "xend", "type": "quantitative", "title": "RDA1 [1.9%]", "scale": {"domain": [-5.605, 6.54], "nice": false, "zero": false}},
        "y": {"field": "yend", "type": "quantitative", "title": "RDA2 [1.3%]", "scale": {"domain": [-5.463, 5.478], "nice": false, "zero": false}},
        "angle": {"field": "heading", "type": "quantitative", "scale": {"domain": [-360, 360], "range": [-360, 360]}}
      }
    },
    {
      "data": {"name": "constraints"},
      "mark": {"type": "rect", "fill": "#FFFFFF", "fillOpacity": 0.9, "stroke": "#A31A1A", "strokeWidth": 1.2, "cornerRadius": 4},
      "encoding": {
        "x": {"field": "bx0", "type": "quantitative", "title": "RDA1 [1.9%]", "scale": {"domain": [-5.605, 6.54], "nice": false, "zero": false}},
        "x2": {"field": "bx1"},
        "y": {"field": "by0", "type": "quantitative", "title": "RDA2 [1.3%]", "scale": {"domain": [-5.463, 5.478], "nice": false, "zero": false}},
        "y2": {"field": "by1"}
      }
    },
    {
      "data": {"name": "constraints"},
      "mark": {"type": "text", "fontSize": 18, "color": "#A31A1A", "align": "center", "baseline": "middle"},
      "encoding": {
        "x": {"field": "tx", "type": "quantitative", "title": "RDA1 [1.9%]", "scale": {"domain": [-5.605, 6.54], "nice": false, "zero": false}},
        "y": {"field": "ty", "type": "quantitative", "title": "RDA2 [1.3%]", "scale": {"domain": [-5.463, 5.478], "nice": false, "zero": false}},
        "text": {"field": "term"}
      }
    },
    {
      "data": {"name": "highlight"},
      "mark": {"type": "rect", "fill": "#FFFFFF", "stroke": "#000000", "strokeWidth": 1.2, "cornerRadius": 4},
      "encoding": {
        "x": {"field": "bx0", "type": "quantitative", "title": "RDA1 [1.9%]", "scale": {"domain": [-5.605, 6.54], "nice": false, "zero": false}},
        "x2": {"field": "bx1"},
        "y": {"field": "by0", "type": "quantitative", "title": "RDA2 [1.3%]", "scale": {"domain": [-5.463, 5.478], "nice": false, "zero": false}},
        "y2": {"field": "by1"}
      }
    },
    {
      "data": {"name": "highlight"},
      "mark": {"type": "text", "fontSize": 14.5, "color": "#000000", "align": "left", "baseline": "middle"},
      "encoding": {
        "x": {"field": "tx", "type": "quantitative", "title": "RDA1 [1.9%]", "scale": {"domain": [-5.605, 6.54], "nice": false, "zero": false}},
        "y": {"field": "ty", "type": "quantitative", "title": "RDA2 [1.3%]", "scale": {"domain": [-5.463, 5.478], "nice": false, "zero": false}},
        "text": {"field": "taxon"}
      }
    },
    {
      "data": {"name": "ellipses"},
      "mark": {"type": "line", "strokeWidth": 2},
      "encoding": {
        "x": {"field": "x", "type": "quantitative", "title": "RDA1 [1.9%]", "scale": {"domain": [-5.605, 6.54], "nice": false, "zero": false}},
        "y": {"field": "y", "type": "quantitative", "title": "RDA2 [1.3%]", "scale": {"domain": [-5.463, 5.478], "nice": false, "zero": false}},
        "order": {"field": "i", "type": "quantitative"},
        "color": {"field": "bmi_group", "type": "nominal", "legend": null},
        "strokeDash": {
          "field": "bmi_group", "type": "nominal", "legend": null,
          "scale": {"domain": ["lean", "overweight", "obese"], "range": [[1, 0], [4, 5], [10, 6]]}
        }
      }
    }
  ],
  "config": {
    "font": "DejaVu Sans",
    "view": {"stroke": null},
    "axis": {
      "domain": false, "ticks": false, "tickSize": 0,
      "gridColor": "#EBEBEB",
      "labelColor": "#4D4D4D", "labelFontSize": 22,
      "titleFontSize": 28, "titleFontWeight": "normal", "titleColor": "#000000"
    }
  }
}
